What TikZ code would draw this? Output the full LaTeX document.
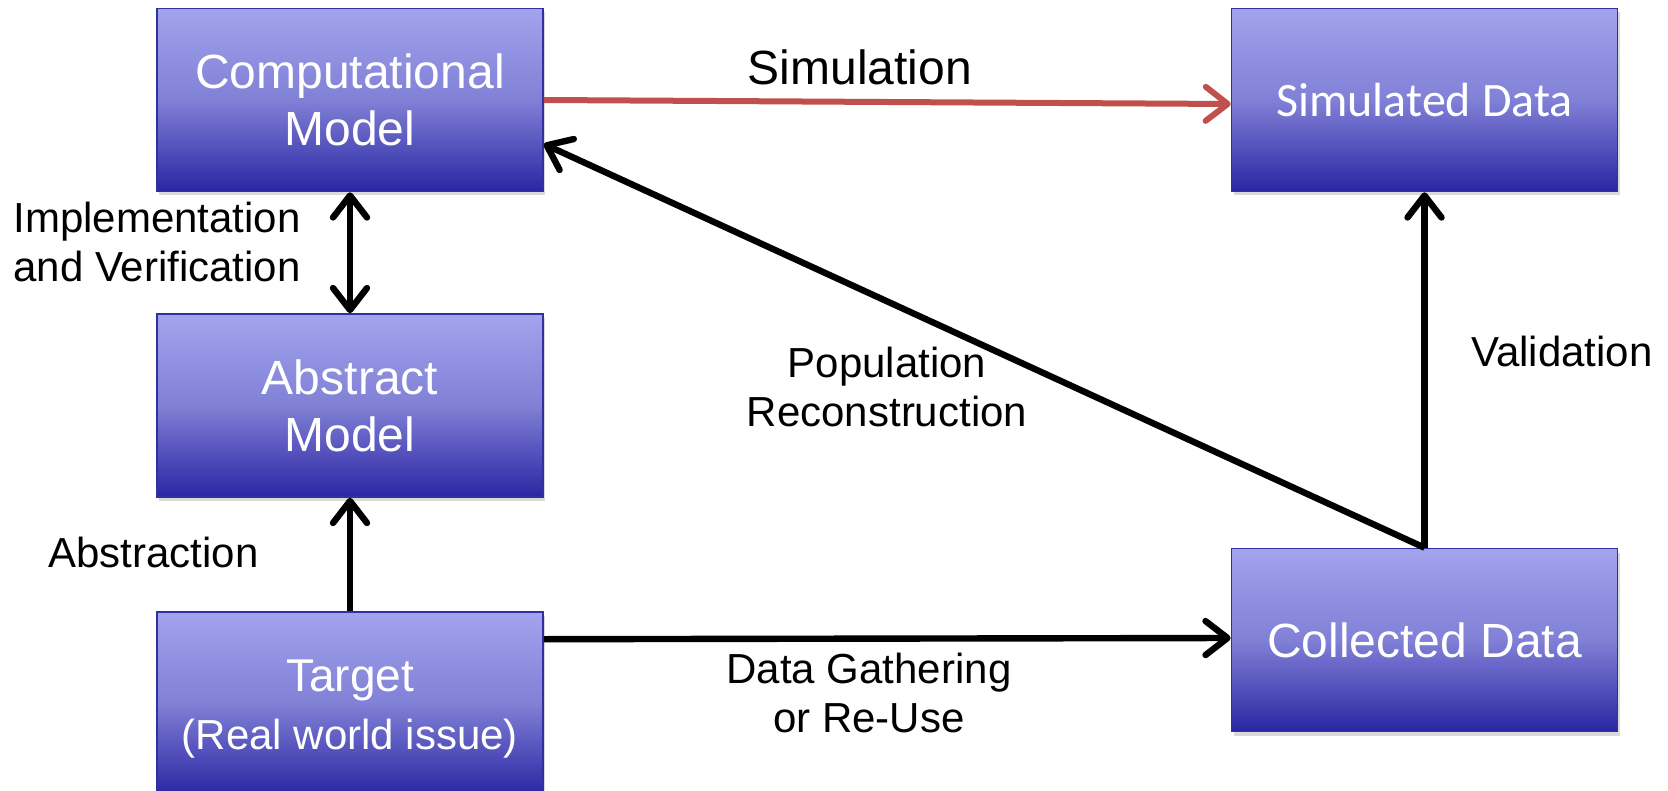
\documentclass[tikz,border=0pt]{standalone}
\usepackage{fontspec}
\setmainfont{Liberation Sans}
\newfontfamily\calib{Carlito}
\usetikzlibrary{arrows.meta,shadows,calc}
\definecolor{boxtop}{RGB}{163,163,238}
\definecolor{boxmid}{RGB}{128,128,214}
\definecolor{boxbot}{RGB}{42,38,163}
\definecolor{boxline}{RGB}{48,48,160}
\definecolor{simred}{RGB}{192,80,77}
\begin{document}
\begin{tikzpicture}[x=0.5pt,y=-0.5pt,
  barb/.tip={Straight Barb[length=11pt,width=17pt,round]},
  blk/.style={draw=boxline, line width=0.8pt, top color=boxtop, bottom color=boxbot, middle color=boxmid,
    minimum width=193pt, minimum height=91.5pt, inner sep=0pt, text=white,
    font=\fontsize{24}{28.5}\selectfont, align=center,
    drop shadow={opacity=0.3, shadow xshift=1pt, shadow yshift=-2pt}},
  boxtxt/.style={inner sep=0pt, text=white, align=center, font=\fontsize{23}{28}\selectfont},
  lab/.style={font=\fontsize{21}{24.5}\selectfont, inner sep=0pt},
  arr/.style={line width=3.2pt, -barb},
]
\clip (0,0) rectangle (1668,791);
\node[blk] (comp) at (350,100) {Computational\\Model};
\node[blk, font=\calib\fontsize{24}{28.5}\selectfont] (sim) at (1424.5,100) {Simulated Data};
\node[blk] (abs) at (350,405.5) {Abstract\\Model};
\node[blk] (tgt) at (350,703.5) {};
\node[boxtxt] (tgttxt) at (350,709) {Target\\[1pt]{\fontsize{21}{25}\selectfont (Real world issue)}};
\node[blk] (coll) at (1424.5,640) {Collected Data};

\draw[arr, simred, line width=3pt] (comp.east) -- ([yshift=-2pt]sim.west);
\draw[line width=3.2pt, barb-barb] (comp.south) -- (abs.north);
\draw[arr] (tgt.north) -- (abs.south);
\draw[arr] ([yshift=-14pt]tgt.north east) -- ([yshift=1pt]coll.west);
\draw[arr] (coll.north) -- (sim.south);
\draw[arr] (coll.north) -- ([yshift=-22pt]comp.east);

\node[font=\fontsize{24}{28}\selectfont, inner sep=0pt] (simlab) at (860,67) {Simulation};
\node[lab, anchor=west, align=left] (implab) at (13,242) {Implementation\\and Verification};
\node[lab, anchor=west] (abslab) at (48,552) {Abstraction};
\node[lab, align=center] (poplab) at (887,387) {Population\\Reconstruction};
\node[lab, align=center] (datalab) at (869,693) {Data Gathering\\or Re-Use};
\node[lab] (vallab) at (1562,351) {Validation};
\end{tikzpicture}
\end{document}
